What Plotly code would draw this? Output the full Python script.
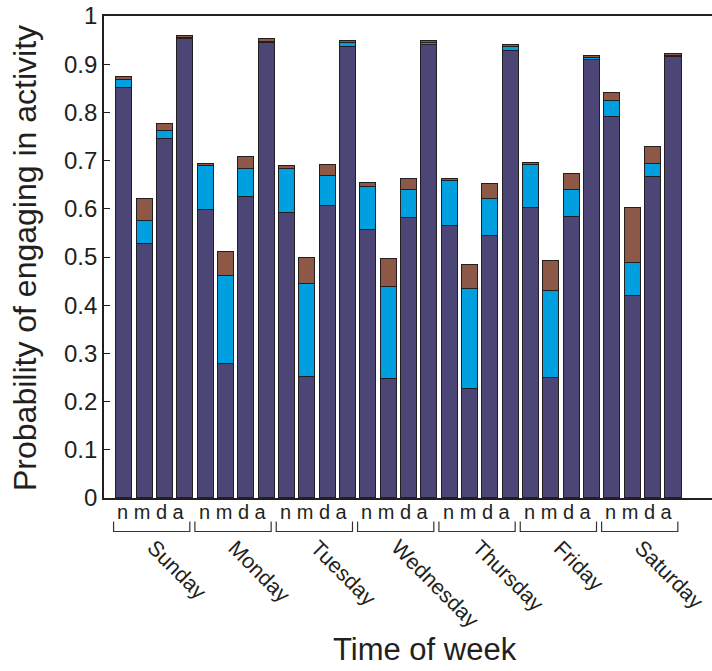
import plotly.graph_objects as go

# Days and time-of-day slots
days = ["Sunday", "Monday", "Tuesday", "Wednesday", "Thursday", "Friday", "Saturday"]
slots = ["n", "m", "d", "a"]

# Stacked segment heights, ordered day by day, slot by slot
base_prob = [0.850, 0.527, 0.744, 0.952,
             0.598, 0.279, 0.624, 0.943,
             0.592, 0.251, 0.605, 0.935,
             0.557, 0.247, 0.580, 0.939,
             0.565, 0.227, 0.544, 0.927,
             0.601, 0.249, 0.582, 0.908,
             0.790, 0.420, 0.665, 0.914]
mid_prob = [0.017, 0.048, 0.018, 0.003,
            0.090, 0.182, 0.059, 0.004,
            0.090, 0.194, 0.064, 0.009,
            0.089, 0.191, 0.058, 0.006,
            0.092, 0.206, 0.076, 0.009,
            0.089, 0.181, 0.058, 0.005,
            0.034, 0.068, 0.027, 0.004]
top_prob = [0.007, 0.045, 0.014, 0.004,
            0.004, 0.049, 0.024, 0.005,
            0.006, 0.052, 0.021, 0.004,
            0.007, 0.057, 0.023, 0.004,
            0.005, 0.050, 0.032, 0.004,
            0.005, 0.062, 0.032, 0.005,
            0.016, 0.114, 0.036, 0.004]

y_ticks = [0, 0.1, 0.2, 0.3, 0.4, 0.5, 0.6, 0.7, 0.8, 0.9, 1]
y_ticktext = ["0", "0.1", "0.2", "0.3", "0.4", "0.5", "0.6", "0.7", "0.8", "0.9", "1"]
top_ticks = [5, 10, 15, 20, 25]

FONT = "Liberation Sans, Arial, Helvetica, sans-serif"
INK = "#231F20"
colors = ["#4B4676", "#009FDF", "#8E5847"]

n_slots = len(slots)
x_pos = [g * n_slots + s + 1 for g in range(len(days)) for s in range(n_slots)]

fig = go.Figure()
for vals, col in zip([base_prob, mid_prob, top_prob], colors):
    fig.add_trace(go.Bar(
        x=x_pos, y=vals, width=0.8,
        marker=dict(color=col, line=dict(color=INK, width=1.3)),
        showlegend=False, hoverinfo="skip",
    ))

# plot area geometry in pixels (for placing labels below the axis)
H, W = 671, 712
ML, MR, MT, MB = 104, 0, 16, 173
plot_h = H - MT - MB
plot_w = W - ML - MR
bottom_px = MT + plot_h


def py(pix):
    return (bottom_px - pix) / plot_h


def px(pix):
    return (pix - ML) / plot_w


shapes = []
annotations = []
for g, day in enumerate(days):
    center = g * n_slots + (n_slots + 1) / 2
    # bracket under each day's group
    x0 = g * n_slots + 0.47
    x1 = g * n_slots + 4.22
    ya, yb = py(521.5), py(531.5)
    shapes.append(dict(
        type="path", xref="x", yref="paper",
        path=f"M {x0},{ya} L {x0},{yb} L {x1},{yb} L {x1},{ya}",
        line=dict(color="#333333", width=1.2),
    ))
    annotations.append(dict(
        x=center - 0.17, y=py(512), xref="x", yref="paper",
        text="n m d a", showarrow=False, xanchor="center", yanchor="middle",
        font=dict(family=FONT, size=20, color=INK),
    ))
    annotations.append(dict(
        x=center - 0.75, y=py(533), xref="x", yref="paper",
        text=day, showarrow=False, textangle=45,
        xanchor="left", yanchor="top",
        font=dict(family=FONT, size=21.5, color=INK),
    ))

annotations.append(dict(
    x=px(425), y=py(649.5), xref="paper", yref="paper",
    text="Time of week", showarrow=False, xanchor="center", yanchor="middle",
    font=dict(family=FONT, size=31, color=INK),
))
annotations.append(dict(
    x=px(25), y=py(258), xref="paper", yref="paper",
    text="Probability of engaging in activity", showarrow=False, textangle=-90,
    xanchor="center", yanchor="middle",
    font=dict(family=FONT, size=32, color=INK),
))

fig.update_layout(
    width=W, height=H,
    margin=dict(l=ML, r=MR, t=MT, b=MB, pad=0),
    barmode="stack", bargap=0,
    plot_bgcolor="white", paper_bgcolor="white",
    font=dict(family=FONT, color=INK),
    xaxis=dict(range=[0, 29.9], showline=True, linecolor=INK, linewidth=1.8,
               mirror=True, ticks="", showticklabels=False, showgrid=False,
               zeroline=False, fixedrange=True),
    xaxis2=dict(range=[0, 29.9], overlaying="x", side="top", anchor="y",
                tickmode="array", tickvals=top_ticks, ticks="inside", ticklen=6,
                tickwidth=1.3, tickcolor=INK, showticklabels=False,
                showline=False, showgrid=False, zeroline=False),
    yaxis=dict(range=[0, 1], showline=True, linecolor=INK, linewidth=1.8,
               tickmode="array", tickvals=y_ticks, ticktext=y_ticktext,
               ticks="inside", ticklen=6, tickwidth=1.3, tickcolor=INK,
               tickfont=dict(family=FONT, size=24, color=INK),
               showgrid=False, zeroline=False),
    yaxis2=dict(range=[0, 1], overlaying="y", side="right", anchor="x",
                tickmode="array", tickvals=y_ticks, ticks="inside", ticklen=6,
                tickwidth=1.3, tickcolor=INK, showticklabels=False,
                showline=False, showgrid=False, zeroline=False),
    shapes=shapes,
    annotations=annotations,
)

fig.write_html("out.html")
